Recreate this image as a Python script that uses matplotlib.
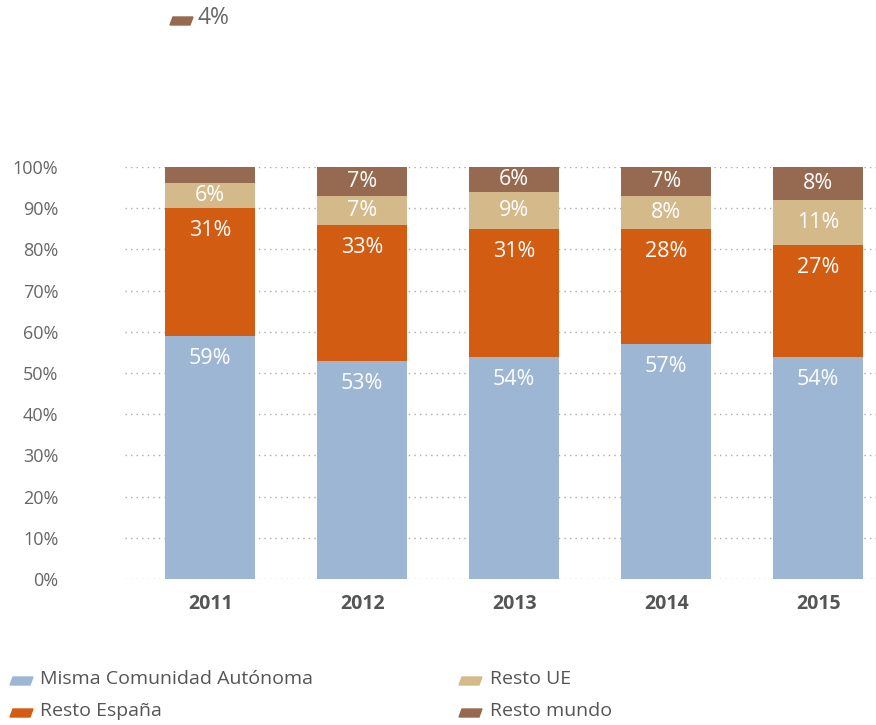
import matplotlib

matplotlib.use("Agg")
import matplotlib.pyplot as plt
import numpy as np
from matplotlib.patches import Polygon

plt.rcParams["font.family"] = ["Open Sans", "DejaVu Sans"]

# ---------------------------------------------------------------------------
# Data (percent of total per year)
# ---------------------------------------------------------------------------
years = ["2011", "2012", "2013", "2014", "2015"]
misma_ca = [59, 53, 54, 57, 54]
resto_espana = [31, 33, 31, 28, 27]
resto_ue = [6, 7, 9, 8, 11]
resto_mundo = [4, 7, 6, 7, 8]

series_names = ["Misma Comunidad Autónoma", "Resto España", "Resto UE", "Resto mundo"]
series_values = [misma_ca, resto_espana, resto_ue, resto_mundo]
colors = ["#9CB6D3", "#D25C12", "#D4B98A", "#956A50"]

# values too small to label inside the bar are shown above the plot
outside_label = {(0, 3): True}

fig = plt.figure(figsize=(8.76, 7.25), dpi=100)
ax = fig.add_axes([125 / 876, 146 / 725, 751 / 876, 412 / 725])

x = np.arange(len(years))
bottom = np.zeros(len(years))
for s, (vals, col) in enumerate(zip(series_values, colors)):
    vals = np.array(vals, dtype=float)
    ax.bar(x, vals, 0.59, bottom=bottom, color=col, zorder=2)
    for i, v in enumerate(vals):
        if outside_label.get((i, s)):
            continue
        ypos = bottom[i] + v - min(v / 2, 5.5)
        ax.text(x[i], ypos, f"{v:.0f}%", ha="center", va="center",
                color="white", fontsize=15.5, zorder=3)
    bottom += vals

ax.set_xlim(-0.56, 4.38)
ax.set_ylim(0, 100)
ax.set_yticks(np.arange(0, 101, 10))
ax.set_yticklabels([f"{t}%" for t in range(0, 101, 10)])
ax.set_xticks(x)
ax.set_xticklabels(years, fontweight="bold")
ax.tick_params(axis="y", length=0, pad=48, labelsize=13, labelcolor="#666666")
ax.tick_params(axis="x", length=0, pad=11, labelsize=14, labelcolor="#555555")

ax.grid(axis="y", linestyle=(0, (1, 3)), color="#AAAAAA", linewidth=1, zorder=1)
for sp in ax.spines.values():
    sp.set_visible(False)


def swatch(x_px, y_px, color):
    # small parallelogram, top edge shifted right (pixel coords, y down)
    w, h, sk = 20, 8, 1.5
    pts = [(x_px - sk, y_px + h / 2), (x_px + w - sk, y_px + h / 2),
           (x_px + w + sk, y_px - h / 2), (x_px + sk, y_px - h / 2)]
    pts = [(px / 876, 1 - py / 725) for px, py in pts]
    fig.patches.append(Polygon(pts, closed=True, color=color,
                               transform=fig.transFigure, figure=fig))


# label for the 2011 "Resto mundo" slice, drawn above the plot
swatch(171.5, 21, colors[3])
fig.text(197 / 876, 1 - 18 / 725, f"{resto_mundo[0]}%", fontsize=16.5,
         color="#666666", va="center", ha="left")

legend_pos = [(11.5, 679), (11.5, 711), (460.5, 679), (460.5, 711)]
for name, col, (lx, ly) in zip(series_names, colors, legend_pos):
    swatch(lx, ly + 2, col)
    fig.text((lx + 29) / 876, 1 - ly / 725, name, fontsize=14,
             color="#555555", va="center", ha="left")

fig.savefig("out.png", dpi=100)
